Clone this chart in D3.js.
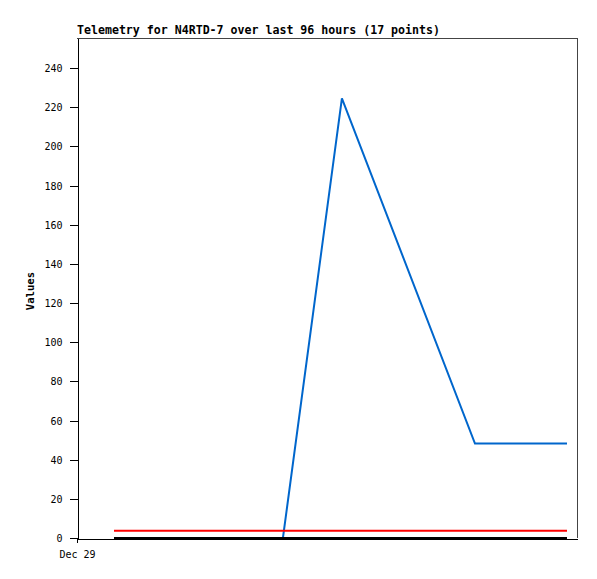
<!DOCTYPE html>
<html>
<head>
<meta charset="utf-8">
<script src="https://cdn.jsdelivr.net/npm/d3@7"></script>
<style>
  body { margin: 0; background: #fff; }
  svg { display: block; }
  .axis text { font-family: "DejaVu Sans Mono", monospace; font-size: 10px; fill: #000; }
  .axis path, .axis line { stroke: #000; shape-rendering: crispEdges; }
</style>
</head>
<body>
<div id="chart"></div>
<script>
// Chart data: hours after the first sample, and the three series
const startTime = new Date(2023, 11, 29, 0, 0);
const firstOffsetHours = 7.84;
const hours = [0, 3, 6, 9, 12, 18, 24, 30, 35.8, 48.3, 76.5, 80, 84, 88, 92, 94, 96];
const blueValues = [0, 0, 0, 0, 0, 0, 0, 0, 0, 224.5, 48.2, 48.2, 48.2, 48.2, 48.2, 48.2, 48.2];
const redValues = [3.7, 3.7, 3.7, 3.7, 3.7, 3.7, 3.7, 3.7, 3.7, 3.7, 3.7, 3.7, 3.7, 3.7, 3.7, 3.7, 3.7];
const blackValues = [0, 0, 0, 0, 0, 0, 0, 0, 0, 0, 0, 0, 0, 0, 0, 0, 0];
const yTicks = [0, 20, 40, 60, 80, 100, 120, 140, 160, 180, 200, 220, 240];
const xTickDates = [startTime];
const title = "Telemetry for N4RTD-7 over last 96 hours (17 points)";

const WIDTH = 597, HEIGHT = 579;
const LEFT = 77, RIGHT = 577, TOP = 38, BOTTOM = 538;
const HOUR = 3600 * 1000;

const times = hours.map(h => new Date(startTime.getTime() + (firstOffsetHours + h) * HOUR));

const svg = d3.select("#chart").append("svg")
  .attr("width", WIDTH)
  .attr("height", HEIGHT);

const x = d3.scaleTime()
  .domain([startTime, new Date(startTime.getTime() + 105.96 * HOUR)])
  .range([LEFT, RIGHT]);

const y = d3.scaleLinear()
  .domain([0, 240 * (BOTTOM - TOP) / 470])
  .range([BOTTOM, TOP]);

// frame: top and right in grey
svg.append("line")
  .attr("x1", LEFT).attr("x2", RIGHT).attr("y1", TOP + 0.5).attr("y2", TOP + 0.5)
  .attr("stroke", "#444");
svg.append("line")
  .attr("x1", RIGHT + 0.5).attr("x2", RIGHT + 0.5).attr("y1", TOP).attr("y2", BOTTOM)
  .attr("stroke", "#444");

svg.append("g")
  .attr("class", "axis")
  .attr("transform", `translate(${LEFT + 0.5},0)`)
  .call(d3.axisLeft(y).tickValues(yTicks).tickSize(8).tickSizeOuter(0).tickPadding(7))
  .call(g => g.selectAll("text").attr("dy", "0.35em"));

svg.append("g")
  .attr("class", "axis")
  .attr("transform", `translate(0,${BOTTOM + 0.5})`)
  .call(d3.axisBottom(x).tickValues(xTickDates).tickSize(4).tickSizeOuter(0)
    .tickFormat(d3.timeFormat("%b %d")).tickPadding(8));

const line = values => d3.line()
  .x((d, i) => x(times[i]))
  .y(d => y(d))(values);

[[blueValues, "#0066cc"], [redValues, "#ff0000"], [blackValues, "#000000"]].forEach(([vals, color]) => {
  svg.append("path")
    .attr("d", line(vals))
    .attr("fill", "none")
    .attr("stroke", color)
    .attr("stroke-width", 2);
});

svg.append("text")
  .attr("x", LEFT)
  .attr("y", 34)
  .attr("font-family", "DejaVu Sans Mono, monospace")
  .attr("font-weight", "bold")
  .attr("font-size", 11.6)
  .text(title);

svg.append("text")
  .attr("transform", `translate(34,291) rotate(-90)`)
  .attr("text-anchor", "middle")
  .attr("font-family", "DejaVu Sans Mono, monospace")
  .attr("font-weight", "bold")
  .attr("font-size", 10.6)
  .text("Values");
</script>
</body>
</html>
